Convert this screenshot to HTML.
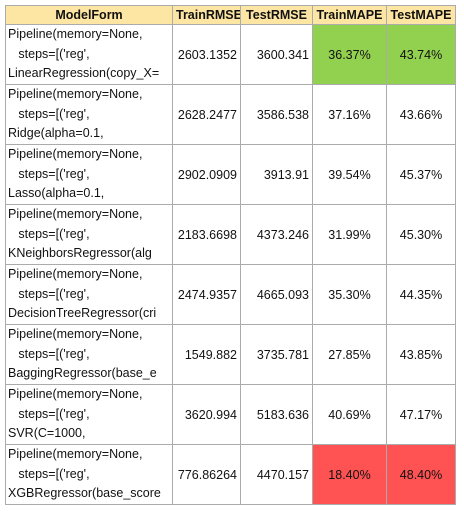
<!DOCTYPE html>
<html><head><meta charset="utf-8"><style>
body{margin:0;background:#fff;width:464px;height:515px;overflow:hidden;font-family:"Liberation Sans",sans-serif;}
table{position:absolute;left:5px;top:5px;border-collapse:collapse;table-layout:fixed;font-size:12.5px;color:#111;width:450px;}
td,th{border:1px solid #ababab;padding:0 3px;white-space:nowrap;overflow:hidden;}
th{background:#fde5a3;height:18px;font-weight:bold;text-align:center;font-size:12.5px;}
td{height:59px;}
td.m{line-height:19.5px;padding-left:2px;}
td.r{text-align:right;}
td.c{text-align:center;}
.g{background:#92d050;}.red{background:#ff5353;}
</style></head><body>
<table>
<colgroup><col style="width:167px"><col style="width:68px"><col style="width:72px"><col style="width:74px"><col style="width:69px"></colgroup>
<tr><th>ModelForm</th><th>TrainRMSE</th><th>TestRMSE</th><th>TrainMAPE</th><th>TestMAPE</th></tr>
<tr><td class="m">Pipeline(memory=None,<br>&nbsp;&nbsp;&nbsp;steps=[('reg',<br>LinearRegression(copy_X=</td><td class="r">2603.1352</td><td class="r">3600.341</td><td class="c g">36.37%</td><td class="c g">43.74%</td></tr>
<tr><td class="m">Pipeline(memory=None,<br>&nbsp;&nbsp;&nbsp;steps=[('reg',<br>Ridge(alpha=0.1,</td><td class="r">2628.2477</td><td class="r">3586.538</td><td class="c">37.16%</td><td class="c">43.66%</td></tr>
<tr><td class="m">Pipeline(memory=None,<br>&nbsp;&nbsp;&nbsp;steps=[('reg',<br>Lasso(alpha=0.1,</td><td class="r">2902.0909</td><td class="r">3913.91</td><td class="c">39.54%</td><td class="c">45.37%</td></tr>
<tr><td class="m">Pipeline(memory=None,<br>&nbsp;&nbsp;&nbsp;steps=[('reg',<br>KNeighborsRegressor(alg</td><td class="r">2183.6698</td><td class="r">4373.246</td><td class="c">31.99%</td><td class="c">45.30%</td></tr>
<tr><td class="m">Pipeline(memory=None,<br>&nbsp;&nbsp;&nbsp;steps=[('reg',<br>DecisionTreeRegressor(cri</td><td class="r">2474.9357</td><td class="r">4665.093</td><td class="c">35.30%</td><td class="c">44.35%</td></tr>
<tr><td class="m">Pipeline(memory=None,<br>&nbsp;&nbsp;&nbsp;steps=[('reg',<br>BaggingRegressor(base_e</td><td class="r">1549.882</td><td class="r">3735.781</td><td class="c">27.85%</td><td class="c">43.85%</td></tr>
<tr><td class="m">Pipeline(memory=None,<br>&nbsp;&nbsp;&nbsp;steps=[('reg',<br>SVR(C=1000,</td><td class="r">3620.994</td><td class="r">5183.636</td><td class="c">40.69%</td><td class="c">47.17%</td></tr>
<tr><td class="m">Pipeline(memory=None,<br>&nbsp;&nbsp;&nbsp;steps=[('reg',<br>XGBRegressor(base_score</td><td class="r">776.86264</td><td class="r">4470.157</td><td class="c red">18.40%</td><td class="c red">48.40%</td></tr>
</table>
</body></html>
